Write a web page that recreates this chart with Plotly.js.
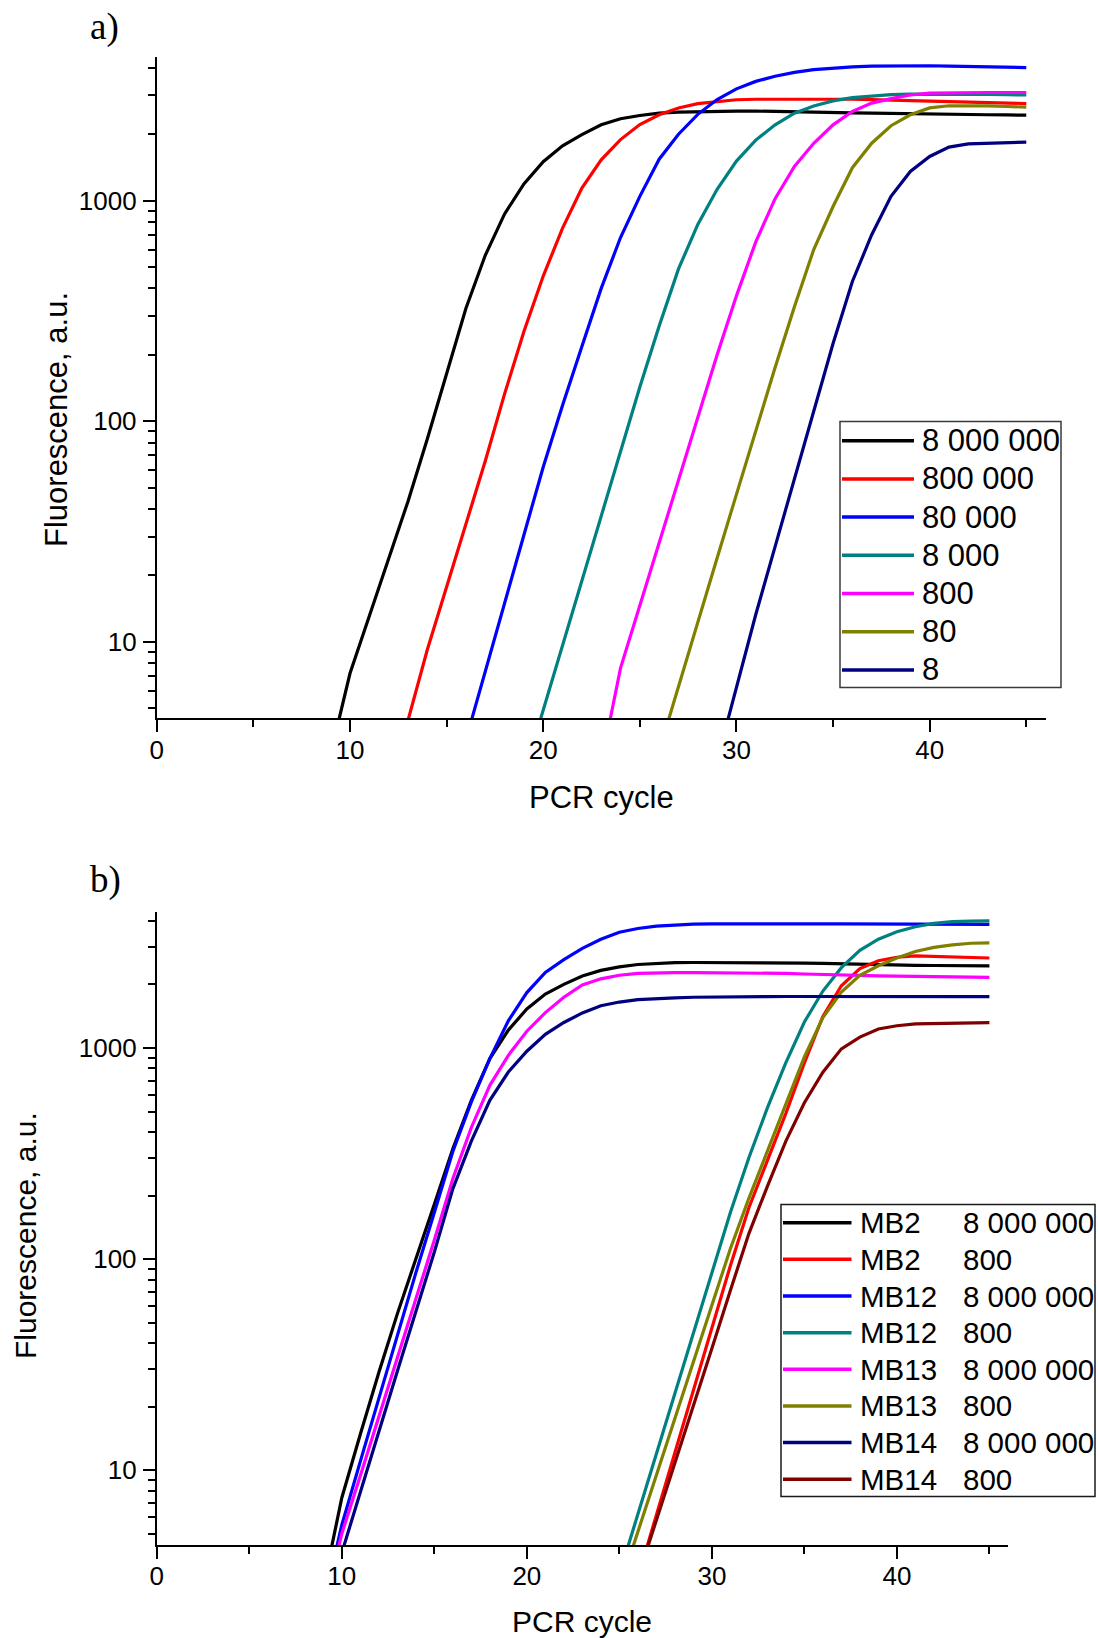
<!DOCTYPE html>
<html>
<head>
<meta charset="utf-8">
<script src="https://cdn.plot.ly/plotly-3.0.1.min.js"></script>
<style>html,body{margin:0;padding:0;background:#fff;}#chart{width:1098px;height:1638px;}</style>
</head>
<body>
<div id="chart"></div>
<script>
const N = null;
// PCR cycle numbers (shared by all curves)
const cycles = [1,2,3,4,5,6,7,8,9,10,11,12,13,14,15,16,17,18,19,20,21,22,23,24,25,26,27,28,29,30,31,32,33,34,35,36,37,38,39,40,41,42,43,44,45];

// ---------- Panel a): dilution series ----------
const aNames = ["8 000 000","800 000","80 000","8 000","800","80","8"];
const a_8000000 = [N,N,N,N,N,N,N,N,3.1,7.2,13.1,23.8,43.3,83,166,325,565,870,1190,1500,1770,1990,2205,2350,2430,2490,2520,2535,2540,2545,2545,2540,2535,2525,2510,2500,2490,2480,2475,2470,2462,2455,2450,2444,2438];
const a_800000  = [N,N,N,N,N,N,N,N,N,N,N,2.3,4.4,9.2,17.7,33.9,66,133,255,455,750,1140,1530,1890,2210,2450,2630,2750,2815,2865,2880,2885,2885,2885,2885,2880,2870,2855,2840,2830,2815,2800,2785,2770,2754];
const a_80000   = [N,N,N,N,N,N,N,N,N,N,N,N,N,N,N,3.6,7.4,15,30.5,62,118,218,400,680,1045,1540,2000,2460,2870,3210,3470,3660,3810,3920,3990,4040,4070,4085,4090,4085,4070,4055,4040,4025,4010];
const a_8000    = [N,N,N,N,N,N,N,N,N,N,N,N,N,N,N,N,N,N,2.5,4.9,9.7,19,37.3,73.5,143,270,490,780,1125,1510,1880,2205,2490,2685,2830,2930,2985,3020,3035,3040,3040,3035,3030,3020,3010];
const a_800     = [N,N,N,N,N,N,N,N,N,N,N,N,N,N,N,N,N,N,N,N,N,N,2.8,7.6,14.6,28.2,54.5,105,200,370,650,1020,1427,1820,2205,2535,2766,2900,3010,3070,3085,3090,3090,3090,3090];
const a_80      = [N,N,N,N,N,N,N,N,N,N,N,N,N,N,N,N,N,N,N,N,N,N,N,N,N,3.2,6.3,12.3,24,46.6,91,175,330,600,940,1410,1820,2185,2450,2630,2690,2700,2690,2670,2655];
const a_8       = [N,N,N,N,N,N,N,N,N,N,N,N,N,N,N,N,N,N,N,N,N,N,N,N,N,N,N,N,2.9,6.2,13.3,27,55,113,225,430,700,1045,1355,1585,1748,1808,1822,1832,1842];
const aSeries = [a_8000000,a_800000,a_80000,a_8000,a_800,a_80,a_8];
const aColors = ["#000000","#FF0000","#0000FF","#008080","#FF00FF","#808000","#000080"];

// ---------- Panel b): molecular beacons ----------
const bProbes  = ["MB2","MB2","MB12","MB12","MB13","MB13","MB14","MB14"];
const bAmounts = ["8 000 000","800","8 000 000","800","8 000 000","800","8 000 000","800"];
const b_MB2_8M    = [N,N,N,N,N,N,N,N,2.8,7.4,14.8,29,55,99,182,333,565,890,1215,1530,1800,2000,2190,2330,2420,2485,2515,2535,2540,2540,2540,2540,2535,2530,2525,2515,2500,2485,2475,2466,2462,2458,2455,2452,2450];
const b_MB2_800   = [N,N,N,N,N,N,N,N,N,N,N,N,N,N,N,N,N,N,N,N,N,N,N,N,N,3.1,6.1,11.9,23.4,45.9,93,175,295,490,850,1410,1970,2377,2590,2690,2730,2716,2700,2680,2668];
const b_MB12_8M   = [N,N,N,N,N,N,N,N,2.3,5.5,11,22,44,86,166,323,555,890,1345,1830,2280,2620,2965,3270,3535,3680,3780,3835,3860,3870,3875,3880,3880,3878,3875,3872,3870,3868,3865,3862,3860,3858,3856,3854,3852];
const b_MB12_800  = [N,N,N,N,N,N,N,N,N,N,N,N,N,N,N,N,N,N,N,N,N,N,N,N,3.2,6.2,11.9,23,44.6,86.7,166,302,520,852,1327,1860,2400,2900,3273,3550,3750,3890,3963,3990,4000];
const b_MB13_8M   = [N,N,N,N,N,N,N,N,2.2,5.0,9.4,17.8,34,64,123,240,420,665,923,1200,1470,1740,1990,2125,2210,2255,2270,2275,2272,2270,2268,2265,2260,2255,2240,2225,2215,2205,2195,2188,2182,2176,2170,2164,2158];
const b_MB13_800  = [N,N,N,N,N,N,N,N,N,N,N,N,N,N,N,N,N,N,N,N,N,N,N,N,2.75,5.1,9.5,17.7,33,61,112,194,324,542,906,1393,1840,2210,2450,2670,2865,2993,3076,3133,3148];
const b_MB14_8M   = [N,N,N,N,N,N,N,N,2.1,4.1,8.0,15.2,29.4,56,108,215,362,565,769,965,1160,1320,1465,1585,1650,1695,1715,1728,1738,1745,1748,1750,1752,1753,1754,1754,1753,1752,1752,1751,1751,1750,1750,1750,1750];
const b_MB14_800  = [N,N,N,N,N,N,N,N,N,N,N,N,N,N,N,N,N,N,N,N,N,N,N,N,N,3.1,5.75,10.8,20.3,37.7,71,132,221,362,550,767,990,1125,1230,1274,1300,1306,1310,1313,1318];
const bSeries = [b_MB2_8M,b_MB2_800,b_MB12_8M,b_MB12_800,b_MB13_8M,b_MB13_800,b_MB14_8M,b_MB14_800];
const bColors = ["#000000","#FF0000","#0000FF","#008080","#FF00FF","#808000","#000080","#800000"];

// axis tick values
const xMajor = [0,10,20,30,40];
const yMajor = [10,100,1000];
const yMajorText = ["10","100","1000"];
const yMinor = [5,6,7,8,9,20,30,40,50,60,70,80,90,200,300,400,500,600,700,800,900,2000,3000,4000];

// ---------- layout helpers ----------
const W = 1098, H = 1638;
const px = v => v / W;
const py = v => 1 - v / H;
const SANS = "Liberation Sans, Arial, Helvetica, sans-serif";
const SERIF = "Liberation Serif, Times New Roman, serif";

const traces = [];
aSeries.forEach((vals, i) => traces.push({
  type: "scatter", mode: "lines", x: cycles, y: vals, name: aNames[i],
  xaxis: "x", yaxis: "y", showlegend: false,
  line: {color: aColors[i], width: 3.2}
}));
bSeries.forEach((vals, i) => traces.push({
  type: "scatter", mode: "lines", x: cycles, y: vals, name: bProbes[i] + " " + bAmounts[i],
  xaxis: "x2", yaxis: "y2", showlegend: false,
  line: {color: bColors[i], width: 3.2}
}));

function xAxis(domain, anchor) {
  return {
    domain: domain, anchor: anchor, range: [0, 46], type: "linear",
    showline: true, linecolor: "#000", linewidth: 2, mirror: false,
    showgrid: false, zeroline: false,
    tickmode: "array", tickvals: xMajor, ticktext: xMajor.map(String),
    ticks: "outside", ticklen: 12, tickwidth: 2, tickcolor: "#000",
    ticklabelstandoff: -5,
    minor: {tickmode: "linear", tick0: 5, dtick: 10, ticks: "outside", ticklen: 7, tickwidth: 2, tickcolor: "#000", showgrid: false},
    tickfont: {family: SANS, size: 26, color: "#000"}
  };
}
function yAxis(domain, anchor, range) {
  return {
    domain: domain, anchor: anchor, type: "log", range: range,
    showline: true, linecolor: "#000", linewidth: 2, mirror: false,
    showgrid: false, zeroline: false,
    tickmode: "array", tickvals: yMajor, ticktext: yMajorText,
    ticks: "outside", ticklen: 12, tickwidth: 2, tickcolor: "#000",
    ticklabelstandoff: 1,
    minor: {tickmode: "array", tickvals: yMinor, ticks: "outside", ticklen: 7, tickwidth: 2, tickcolor: "#000", showgrid: false},
    tickfont: {family: SANS, size: 26, color: "#000"}
  };
}

const shapes = [];
const annotations = [];

// panel labels
annotations.push({xref: "paper", yref: "paper", x: px(88), y: py(27), xanchor: "left", yanchor: "middle",
  text: "a)", showarrow: false, font: {family: SERIF, size: 37, color: "#000"}});
annotations.push({xref: "paper", yref: "paper", x: px(88), y: py(880), xanchor: "left", yanchor: "middle",
  text: "b)", showarrow: false, font: {family: SERIF, size: 37, color: "#000"}});

// axis titles
annotations.push({xref: "paper", yref: "paper", x: px(601), y: py(797), xanchor: "center", yanchor: "middle",
  text: "PCR cycle", showarrow: false, font: {family: SANS, size: 31, color: "#000"}});
annotations.push({xref: "paper", yref: "paper", x: px(57), y: py(420), xanchor: "center", yanchor: "middle", textangle: -90,
  text: "Fluorescence, a.u.", showarrow: false, font: {family: SANS, size: 31, color: "#000"}});
annotations.push({xref: "paper", yref: "paper", x: px(582), y: py(1621), xanchor: "center", yanchor: "middle",
  text: "PCR cycle", showarrow: false, font: {family: SANS, size: 30, color: "#000"}});
annotations.push({xref: "paper", yref: "paper", x: px(25), y: py(1236), xanchor: "center", yanchor: "middle", textangle: -90,
  text: "Fluorescence, a.u.", showarrow: false, font: {family: SANS, size: 30, color: "#000"}});

// legend a
shapes.push({type: "rect", xref: "paper", yref: "paper", x0: px(840), x1: px(1061), y0: py(421.5), y1: py(687.5),
  line: {color: "#3a3a3a", width: 1.5}, fillcolor: "rgba(255,255,255,0)"});
aNames.forEach((nm, i) => {
  const yy = 440.7 + 38.2 * i;
  shapes.push({type: "line", xref: "paper", yref: "paper", x0: px(842), x1: px(914), y0: py(yy), y1: py(yy),
    line: {color: aColors[i], width: 3.5}});
  annotations.push({xref: "paper", yref: "paper", x: px(920), y: py(yy), xanchor: "left", yanchor: "middle",
    text: nm, showarrow: false, font: {family: SANS, size: 31, color: "#000"}});
});

// legend b
shapes.push({type: "rect", xref: "paper", yref: "paper", x0: px(781), x1: px(1095), y0: py(1204.5), y1: py(1496.5),
  line: {color: "#1a1a1a", width: 1.5}, fillcolor: "rgba(255,255,255,0)"});
bProbes.forEach((nm, i) => {
  const yy = 1222.7 + 36.65 * i;
  shapes.push({type: "line", xref: "paper", yref: "paper", x0: px(783), x1: px(851.5), y0: py(yy), y1: py(yy),
    line: {color: bColors[i], width: 3.5}});
  annotations.push({xref: "paper", yref: "paper", x: px(858), y: py(yy), xanchor: "left", yanchor: "middle",
    text: nm, showarrow: false, font: {family: SANS, size: 29.5, color: "#000"}});
  annotations.push({xref: "paper", yref: "paper", x: px(960.5), y: py(yy), xanchor: "left", yanchor: "middle",
    text: bAmounts[i], showarrow: false, font: {family: SANS, size: 29.5, color: "#000"}});
});

const layout = {
  width: W, height: H,
  margin: {l: 0, r: 0, t: 0, b: 0, pad: 0},
  paper_bgcolor: "#fff", plot_bgcolor: "#fff",
  showlegend: false,
  xaxis: xAxis([px(156.8), px(1045.6)], "y"),
  yaxis: yAxis([py(718.3), py(56.7)], "x", [Math.log10(4.5), Math.log10(4490)]),
  xaxis2: xAxis([px(156.8), px(1007.9)], "y2"),
  yaxis2: yAxis([py(1545), py(911.7)], "x2", [Math.log10(4.42), Math.log10(4420)]),
  shapes: shapes,
  annotations: annotations
};

Plotly.newPlot("chart", traces, layout, {staticPlot: true, displayModeBar: false});
</script>
</body>
</html>
